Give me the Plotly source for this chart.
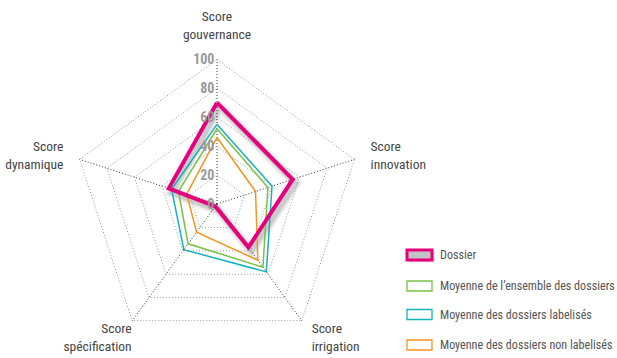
import plotly.graph_objects as go

categories = ["Score gouvernance", "Score innovation", "Score irrigation",
              "Score spécification", "Score dynamique"]
dossier = [70, 55, 37, 2, 35]
ensemble = [52, 37, 54, 34, 28]
labelises = [55, 40, 58, 39, 33]
non_labelises = [46, 28, 48, 24, 22]
radial_ticks = [0, 20, 40, 60, 80, 100]

NB = "\u00a0"
# two-line axis captions, padded away from the outer ring
tick_text = [
    "Score<br>gouvernance<br>" + NB,
    NB * 5 + "Score<br>" + NB * 5 + "innovation",
    NB * 3 + "Score<br>" + NB * 3 + "irrigation",
    "Score<br>spécification",
    "Score" + NB * 5 + "<br>dynamique" + NB * 5,
]

FONT = "Roboto Condensed, Liberation Sans, sans-serif"
W, H = 617, 358
cx, cy, R = 217, 204, 144.7

PINK, GREEN, CYAN, ORANGE = "#E5007D", "#7AC143", "#16B1B9", "#F7941E"


def closed(vals):
    return list(vals) + list(vals[:1])


theta = closed(categories)


def px_x(x):
    return x / W


def px_y(y):
    return 1 - y / H


def dom(dx, dy):
    return dict(x=[px_x(cx - R + dx), px_x(cx + R + dx)],
                y=[px_y(cy + R + dy), px_y(cy - R + dy)])


fig = go.Figure()

# soft drop shadow under the "Dossier" outline, drawn in a slightly offset polar
for w, a in [(11, 0.05), (8, 0.08), (5, 0.12)]:
    fig.add_trace(go.Scatterpolar(
        r=closed(dossier), theta=theta, mode="lines",
        line=dict(color=f"rgba(40,40,40,{a})", width=w),
        hoverinfo="skip", subplot="polar"))

# outer ring, darker than the inner grid
fig.add_trace(go.Scatterpolar(
    r=[100] * len(theta), theta=theta, mode="lines",
    line=dict(color="#333", width=1, dash="1px,2px"),
    hoverinfo="skip", subplot="polar2"))

series = [
    ("Dossier", dossier, PINK, 4),
    ("Moyenne de l’ensemble des dossiers", ensemble, GREEN, 1.5),
    ("Moyenne des dossiers labelisés", labelises, CYAN, 1.5),
    ("Moyenne des dossiers non labelisés", non_labelises, ORANGE, 1.5),
]
for name, vals, col, w in series[1:] + series[:1]:
    fig.add_trace(go.Scatterpolar(
        r=closed(vals), theta=theta, mode="lines", name=name,
        line=dict(color=col, width=w), subplot="polar2"))

# legend: outlined swatches with captions
shapes, annotations = [], []
leg_y = [255, 286, 314.5, 345]
for (name, vals, col, w), yc in zip(series, leg_y):
    if name == "Dossier":
        shapes.append(dict(type="rect", xref="paper", yref="paper",
                           x0=px_x(409), x1=px_x(435), y0=px_y(yc + 7.5), y1=px_y(yc - 3.5),
                           fillcolor="rgba(90,90,90,0.18)", line=dict(width=0)))
        shapes.append(dict(type="rect", xref="paper", yref="paper",
                           x0=px_x(407), x1=px_x(432), y0=px_y(yc + 5), y1=px_y(yc - 5),
                           fillcolor="#c4c4c4", line=dict(color=col, width=3)))
    else:
        shapes.append(dict(type="rect", xref="paper", yref="paper",
                           x0=px_x(407), x1=px_x(432), y0=px_y(yc + 5), y1=px_y(yc - 5),
                           fillcolor="white", line=dict(color=col, width=1.3)))
    annotations.append(dict(text=name, xref="paper", yref="paper", x=px_x(438), y=px_y(yc),
                            xanchor="left", yanchor="middle", showarrow=False,
                            font=dict(family=FONT, size=12.1, color="#555")))

common_angular = dict(categoryarray=categories, categoryorder="array",
                      direction="clockwise", rotation=90)

fig.update_layout(
    width=W, height=H,
    margin=dict(l=0, r=0, t=0, b=0, pad=0, autoexpand=False),
    paper_bgcolor="white",
    font=dict(family=FONT, size=13.5, color="#444"),
    showlegend=False,
    shapes=shapes, annotations=annotations,
    polar=dict(
        domain=dom(3, 4), bgcolor="rgba(0,0,0,0)", gridshape="linear",
        radialaxis=dict(range=[0, 100], visible=False),
        angularaxis=dict(visible=False, **common_angular),
    ),
    polar2=dict(
        domain=dom(0, 0), bgcolor="rgba(0,0,0,0)", gridshape="linear",
        radialaxis=dict(
            range=[0, 100], tickvals=radial_ticks, angle=90, tickangle=90,
            side="counterclockwise", showline=False, ticks="",
            gridcolor="#999", griddash="1px,2px", gridwidth=1,
            tickfont=dict(family=FONT, size=14, color="#9a9a9a", weight="bold"),
        ),
        angularaxis=dict(
            showline=False, ticks="", gridcolor="#333", griddash="1px,2px",
            gridwidth=1, tickmode="array", tickvals=categories, ticktext=tick_text,
            tickfont=dict(family=FONT, size=13.5, color="#444"),
            **common_angular,
        ),
    ),
)

fig.write_html("out.html")
